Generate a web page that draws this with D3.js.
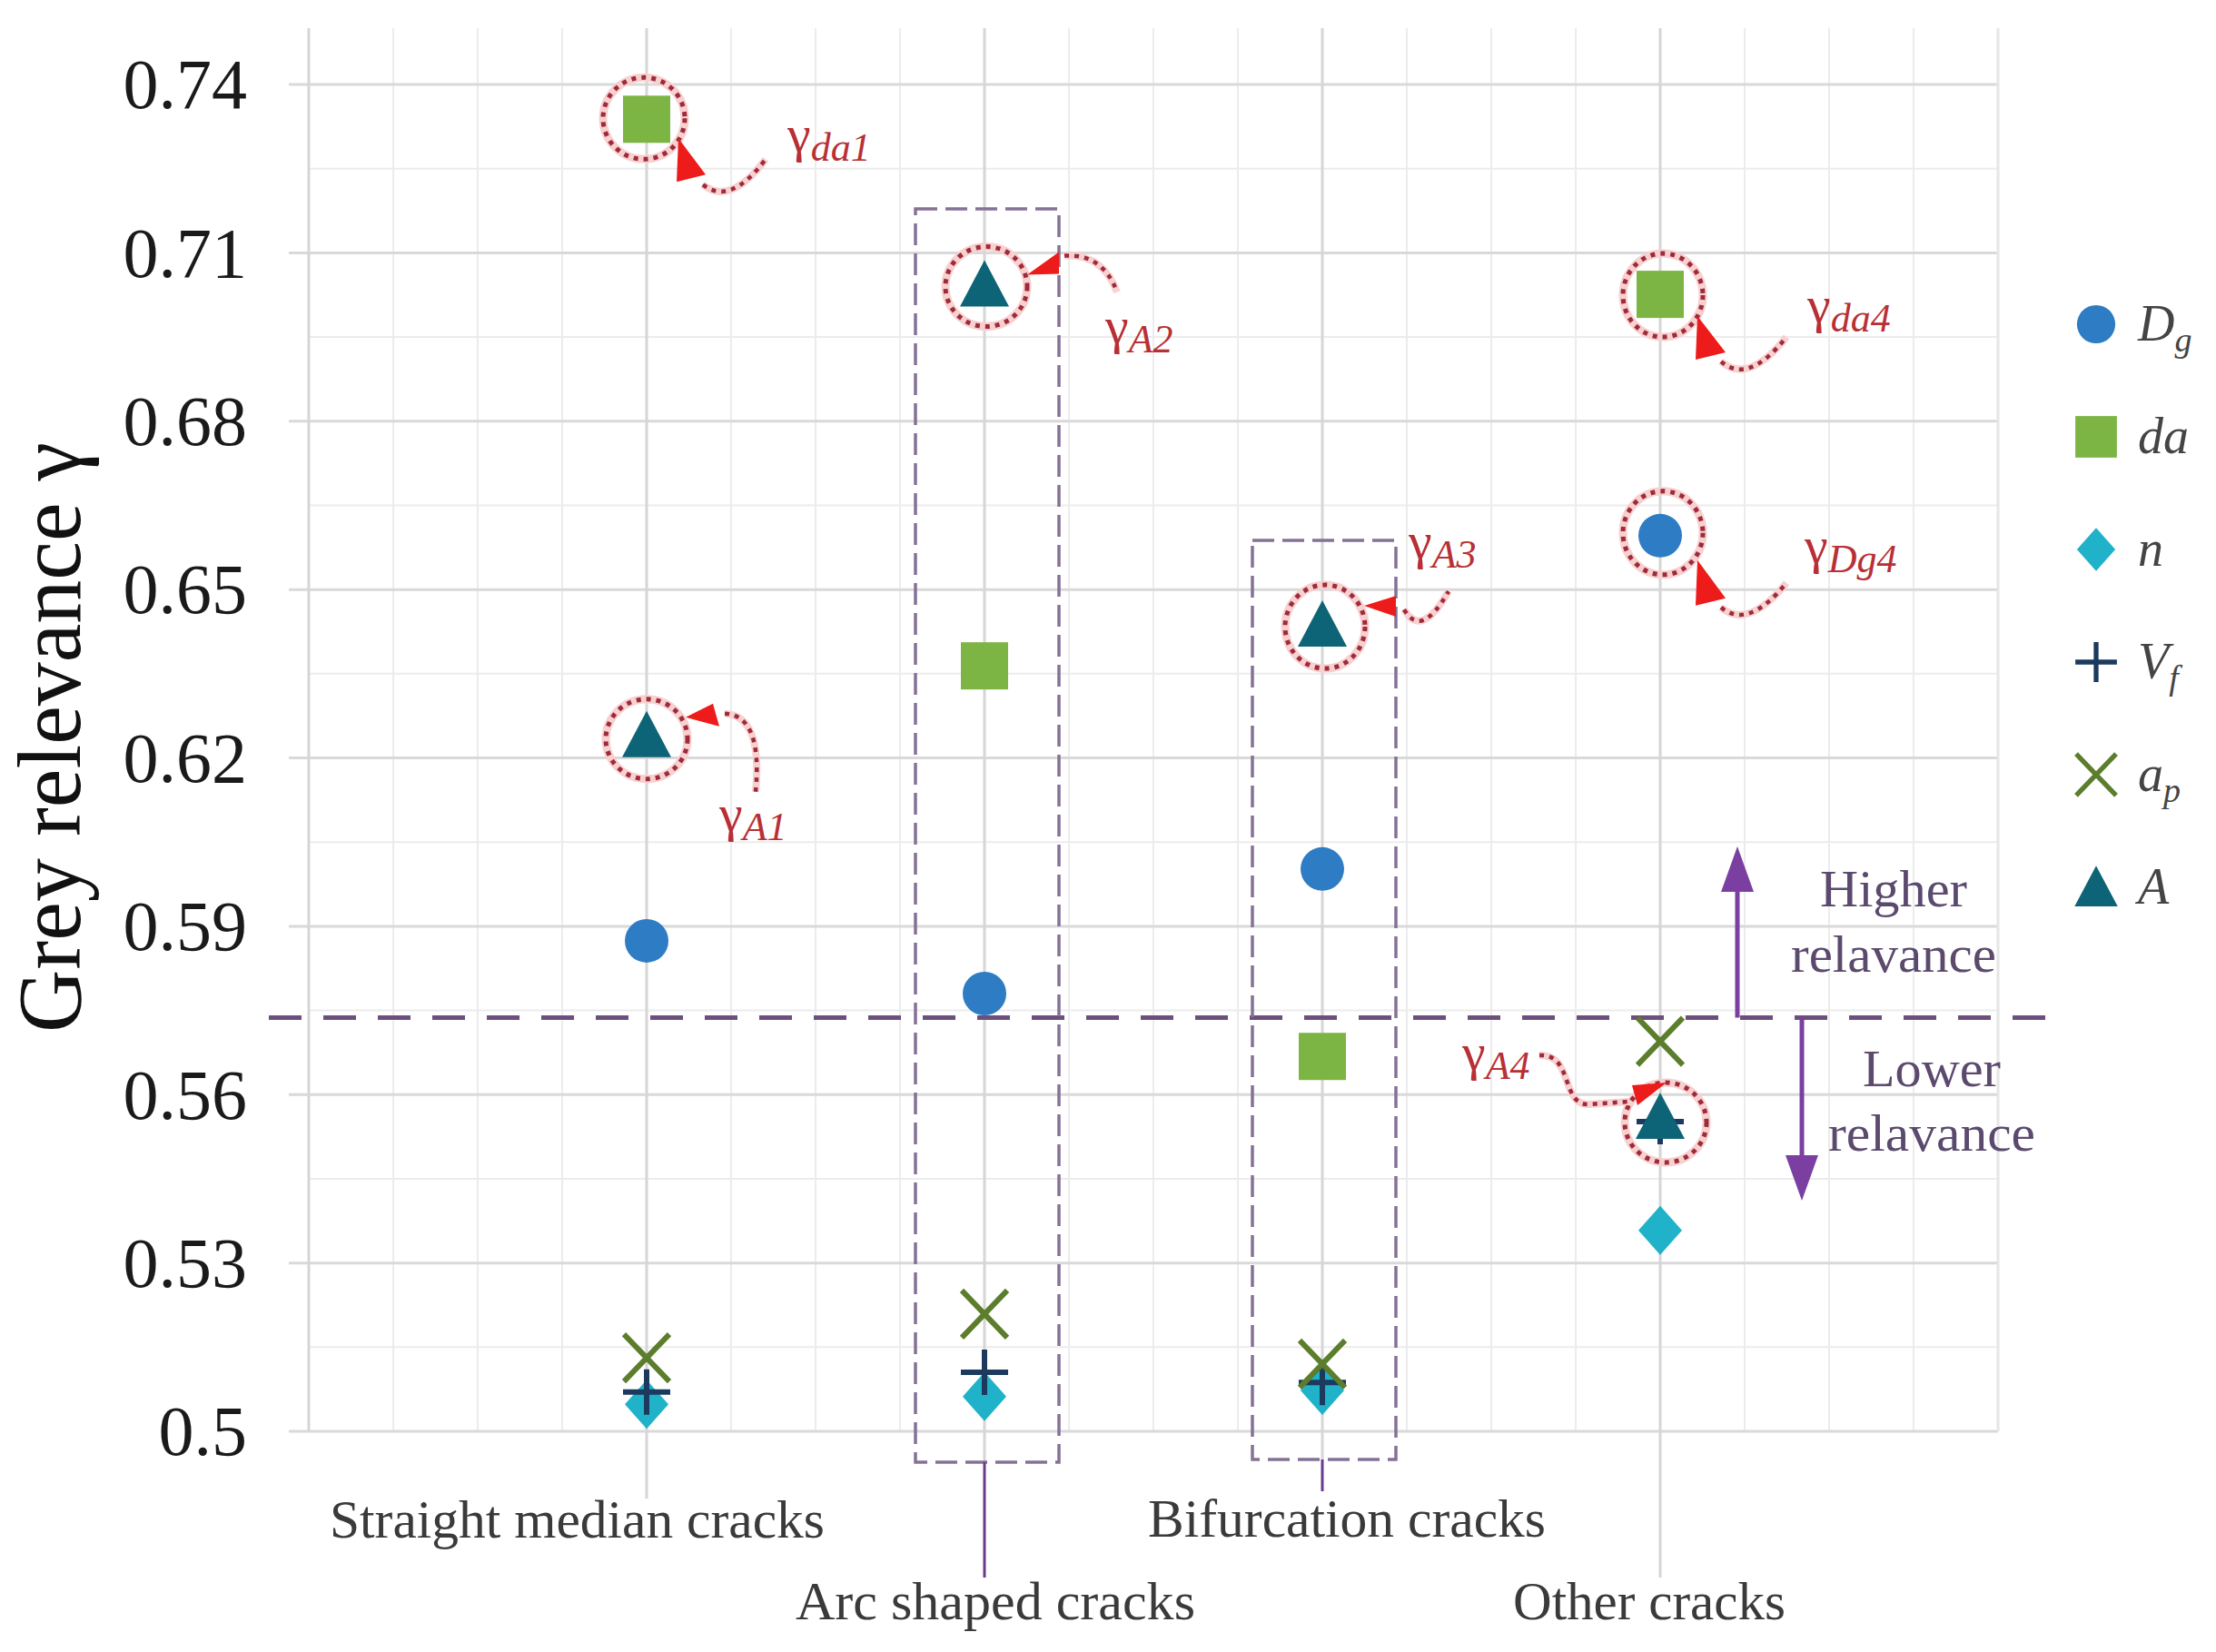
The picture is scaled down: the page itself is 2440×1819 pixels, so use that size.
<!DOCTYPE html>
<html><head><meta charset="utf-8">
<script src="https://cdn.jsdelivr.net/npm/d3@7"></script>
<style>html,body{margin:0;padding:0;background:#fff;} svg{display:block;} text{font-family:"Liberation Serif","DejaVu Serif",serif;}</style>
</head><body><svg id="chart" width="2440" height="1819"></svg>
<script>
// ---------------- DATA ----------------
const categories = ["Straight median cracks", "Arc shaped cracks", "Bifurcation cracks", "Other cracks"];
const seriesKeys = ["Dg", "da", "n", "Vf", "ap", "A"];
const Dg = [0.5874, 0.5780, 0.6002, 0.6596];
const da = [0.7338, 0.6364, 0.5668, 0.7026];
const n  = [0.5048, 0.5062, 0.5073, 0.5358];
const Vf = [0.5070, 0.5105, 0.5087, 0.5552];
const ap = [0.5131, 0.5209, 0.5120, 0.5695];
const A  = [0.6240, 0.7043, 0.6437, 0.5560];
const yTicks = [0.5, 0.53, 0.56, 0.59, 0.62, 0.65, 0.68, 0.71, 0.74];
const yTickLabels = ["0.5", "0.53", "0.56", "0.59", "0.62", "0.65", "0.68", "0.71", "0.74"];
const threshold = 0.5737;
const highlights = [
  {key: "da", cat: 0, sub: "da1"},
  {key: "A",  cat: 0, sub: "A1"},
  {key: "A",  cat: 1, sub: "A2"},
  {key: "A",  cat: 2, sub: "A3"},
  {key: "da", cat: 3, sub: "da4"},
  {key: "Dg", cat: 3, sub: "Dg4"},
  {key: "A",  cat: 3, sub: "A4"}
];
const values = {Dg, da, n, Vf, ap, A};

// ---------------- LAYOUT / STYLE ----------------
const plot = {left: 340, right: 2200, top: 31, bottom: 1576};
const colors = {Dg: "#2e7cc4", da: "#7db544", n: "#1fb2c9", Vf: "#1c3a5e", ap: "#5b7d2c", A: "#0e6477"};
const serif = "Liberation Serif, DejaVu Serif, serif";

const svg = d3.select("#chart");
const x = d3.scaleLinear().domain([0, 5]).range([plot.left, plot.right]);
const y = d3.scaleLinear().domain([0.5, 0.74]).range([plot.bottom, 93]);

// grid
const grid = svg.append("g");
const minorY = d3.range(0.515, 0.74, 0.03);
grid.selectAll(".my").data(minorY).join("line")
  .attr("x1", plot.left).attr("x2", plot.right)
  .attr("y1", d => y(d)).attr("y2", d => y(d))
  .attr("stroke", "#ececec").attr("stroke-width", 2);
const minorX = d3.range(0.25, 5, 0.25).filter(v => Math.abs(v - Math.round(v)) > 0.01);
grid.selectAll(".mx").data(minorX).join("line")
  .attr("x1", d => x(d)).attr("x2", d => x(d))
  .attr("y1", plot.top).attr("y2", plot.bottom)
  .attr("stroke", "#ececec").attr("stroke-width", 2);
grid.selectAll(".My").data(yTicks).join("line")
  .attr("x1", plot.left - 22).attr("x2", plot.right)
  .attr("y1", d => y(d)).attr("y2", d => y(d))
  .attr("stroke", "#d9d9d9").attr("stroke-width", 3);
grid.append("line").attr("x1", x(0)).attr("x2", x(0)).attr("y1", plot.top).attr("y2", plot.bottom)
  .attr("stroke", "#d6d6d6").attr("stroke-width", 3);
grid.append("line").attr("x1", x(5)).attr("x2", x(5)).attr("y1", plot.top).attr("y2", plot.bottom)
  .attr("stroke", "#e6e6e6").attr("stroke-width", 3);
// category lines (extend down toward labels)
const catExt = [1650, 1610, 1607, 1737];
grid.selectAll(".cx").data(categories).join("line")
  .attr("x1", (d, i) => x(i + 1)).attr("x2", (d, i) => x(i + 1))
  .attr("y1", plot.top).attr("y2", (d, i) => catExt[i])
  .attr("stroke", "#d6d6d6").attr("stroke-width", 3);

// y axis labels
const yAxis = d3.axisLeft(y).tickValues(yTicks).tickFormat((d, i) => yTickLabels[i]).tickSize(0).tickPadding(0);
const ya = svg.append("g").attr("transform", "translate(272,0)").call(yAxis);
ya.attr("font-family", serif);
ya.select(".domain").remove();
ya.selectAll("text").attr("font-family", serif).attr("font-size", 78).attr("fill", "#1a1a1a").attr("dy", "0.33em");

// y title
svg.append("text").attr("transform", "translate(88,812) rotate(-90)")
  .attr("text-anchor", "middle").attr("font-family", serif).attr("font-size", 100)
  .attr("fill", "#111").attr("textLength", 650).attr("lengthAdjust", "spacingAndGlyphs")
  .text("Grey relevance γ");

// category labels
const catLabelPos = [{x: 363, y: 1693, w: 545}, {x: 876, y: 1783, w: 440}, {x: 1264, y: 1692, w: 438}, {x: 1666, y: 1783, w: 300}];
svg.selectAll(".cl").data(categories).join("text")
  .attr("x", (d, i) => catLabelPos[i].x).attr("y", (d, i) => catLabelPos[i].y)
  .attr("textLength", (d, i) => catLabelPos[i].w).attr("lengthAdjust", "spacingAndGlyphs")
  .attr("font-family", serif).attr("font-size", 60).attr("fill", "#3a3a3a").text(d => d);

// threshold dashed line
svg.append("line").attr("x1", 296).attr("x2", 2275).attr("y1", y(threshold)).attr("y2", y(threshold))
  .attr("stroke", "#6d4f7e").attr("stroke-width", 5).attr("stroke-dasharray", "36 24");

// dashed boxes
const boxStyle = s => s.attr("fill", "none").attr("stroke", "#857196").attr("stroke-width", 3.5).attr("stroke-dasharray", "24 9");
svg.append("rect").attr("x", 1008).attr("y", 230).attr("width", 158).attr("height", 1380).call(boxStyle);
svg.append("rect").attr("x", 1379).attr("y", 595).attr("width", 158).attr("height", 1012).call(boxStyle);
// leader lines to labels
svg.append("line").attr("x1", x(2)).attr("x2", x(2)).attr("y1", 1610).attr("y2", 1737).attr("stroke", "#6b3a8c").attr("stroke-width", 3);
svg.append("line").attr("x1", x(3)).attr("x2", x(3)).attr("y1", 1607).attr("y2", 1642).attr("stroke", "#6b3a8c").attr("stroke-width", 3);

// marker drawing
function drawMarker(g, key, cx, cy, s) {
  const c = colors[key];
  if (key === "Dg") g.append("circle").attr("cx", cx).attr("cy", cy).attr("r", 24 * s).attr("fill", c);
  else if (key === "da") g.append("rect").attr("x", cx - 26 * s).attr("y", cy - 26 * s).attr("width", 52 * s).attr("height", 52 * s).attr("fill", c);
  else if (key === "n") g.append("path").attr("d", `M${cx},${cy - 27 * s}L${cx + 24 * s},${cy}L${cx},${cy + 27 * s}L${cx - 24 * s},${cy}Z`).attr("fill", c);
  else if (key === "Vf") g.append("path").attr("d", `M${cx - 26 * s},${cy}H${cx + 26 * s}M${cx},${cy - 25 * s}V${cy + 25 * s}`).attr("stroke", c).attr("stroke-width", 6 * s);
  else if (key === "ap") g.append("path").attr("d", `M${cx - 25 * s},${cy - 26 * s}L${cx + 25 * s},${cy + 26 * s}M${cx + 25 * s},${cy - 26 * s}L${cx - 25 * s},${cy + 26 * s}`).attr("stroke", c).attr("stroke-width", 6 * s);
  else if (key === "A") g.append("path").attr("d", `M${cx},${cy - 27 * s}L${cx + 27 * s},${cy + 24 * s}L${cx - 27 * s},${cy + 24 * s}Z`).attr("fill", c);
}
const marks = svg.append("g");
seriesKeys.forEach(k => {
  values[k].forEach((v, i) => drawMarker(marks, k, x(i + 1), y(v), 1));
});

// highlight annotations (geometry offsets relative to the point)
const annLayout = {
  da1: {e: [-3, -1, 45, 45], tri: [[35, 21], [33, 69], [65, 61]], curve: "M62,72 Q92,96 131,44", lab: [155, 36]},
  A1:  {e: [0, 4, 45, 44], tri: [[43, -20], [73, -35], [80, -10]], curve: "M86,-24 Q128,-22 120,62", lab: [80, 105]},
  A2:  {e: [2, 2, 45, 44], tri: [[47, -11], [82, -36], [82, -12]], curve: "M88,-32 Q130,-35 146,8", lab: [133, 64]},
  A3:  {e: [3, 2, 44, 46], tri: [[46, -21], [81, -32], [81, -9]], curve: "M90,-17 Q109,16 139,-37", lab: [95, -73]},
  da4: {e: [3, 1, 44, 46], tri: [[41, 24], [39, 72], [72, 64]], curve: "M67,74 Q97,100 139,47", lab: [162, 31]},
  Dg4: {e: [3, -3, 44, 46], tri: [[41, 27], [39, 77], [72, 69]], curve: "M67,79 Q97,104 139,52", lab: [159, 30]},
  A4:  {e: [6, 6, 45, 44], tri: [[-31, -35], [7, -38], [-25, -13]], curve: "M-133,-68 C-95,-70 -110,-12 -78,-14 L-35,-17", lab: [-218, -52]}
};
const ann = svg.append("g");
highlights.forEach(h => {
  const px = x(h.cat + 1), py = y(values[h.key][h.cat]);
  const L = annLayout[h.sub];
  const g = ann.append("g").attr("transform", `translate(${px},${py})`);
  g.append("ellipse").attr("cx", L.e[0]).attr("cy", L.e[1]).attr("rx", L.e[2]).attr("ry", L.e[3])
    .attr("fill", "none").attr("stroke", "#f9d0d0").attr("stroke-width", 9);
  g.append("ellipse").attr("cx", L.e[0]).attr("cy", L.e[1]).attr("rx", L.e[2]).attr("ry", L.e[3])
    .attr("fill", "none").attr("stroke", "#9e2b3a").attr("stroke-width", 5).attr("stroke-dasharray", "5 6");
  g.append("path").attr("d", L.curve).attr("fill", "none").attr("stroke", "#f9d0d0").attr("stroke-width", 8);
  g.append("path").attr("d", L.curve).attr("fill", "none").attr("stroke", "#9e2b3a").attr("stroke-width", 4.5).attr("stroke-dasharray", "5 6");
  g.append("path").attr("d", "M" + L.tri.map(p => p.join(",")).join("L") + "Z").attr("fill", "#ee1b1b");
  const t = g.append("text").attr("x", L.lab[0]).attr("y", L.lab[1]).attr("font-family", serif).attr("fill", "#b83035");
  t.append("tspan").attr("font-size", 58).text("γ");
  t.append("tspan").attr("font-size", 44).attr("font-style", "italic").attr("dy", 10).text(h.sub);
});

// relevance arrows
const purple = "#7b3fa1";
const arr = svg.append("g");
const yt = y(threshold);
arr.append("line").attr("x1", 1913).attr("x2", 1913).attr("y1", yt).attr("y2", 975).attr("stroke", purple).attr("stroke-width", 5);
arr.append("path").attr("d", `M1913,932 L1931,982 L1895,982 Z`).attr("fill", purple);
arr.append("line").attr("x1", 1984).attr("x2", 1984).attr("y1", yt).attr("y2", 1280).attr("stroke", purple).attr("stroke-width", 5);
arr.append("path").attr("d", `M1984,1322 L2002,1272 L1966,1272 Z`).attr("fill", purple);
const relTxt = [
  {t: "Higher", x: 2085, y: 998, w: 162},
  {t: "relavance", x: 2085, y: 1070, w: 226},
  {t: "Lower", x: 2127, y: 1196, w: 152},
  {t: "relavance", x: 2127, y: 1267, w: 228}
];
arr.selectAll(".rt").data(relTxt).join("text")
  .attr("x", d => d.x).attr("y", d => d.y).attr("text-anchor", "middle")
  .attr("textLength", d => d.w).attr("lengthAdjust", "spacingAndGlyphs")
  .attr("font-family", serif).attr("font-size", 58).attr("fill", "#5b4a6e").text(d => d.t);

// legend
const legY = d3.scalePoint().domain(seriesKeys).range([357, 977]);
const legLabels = {Dg: ["D", "g"], da: ["da", ""], n: ["n", ""], Vf: ["V", "f"], ap: ["a", "p"], A: ["A", ""]};
const leg = svg.append("g");
seriesKeys.forEach(k => {
  drawMarker(leg, k, 2308, legY(k), 0.88);
  const t = leg.append("text").attr("x", 2354).attr("y", legY(k) + 18)
    .attr("font-family", serif).attr("font-style", "italic").attr("font-size", 56).attr("fill", "#444");
  t.append("tspan").text(legLabels[k][0]);
  if (legLabels[k][1]) t.append("tspan").attr("font-size", 38).attr("dy", 12).text(legLabels[k][1]);
});
</script></body></html>
